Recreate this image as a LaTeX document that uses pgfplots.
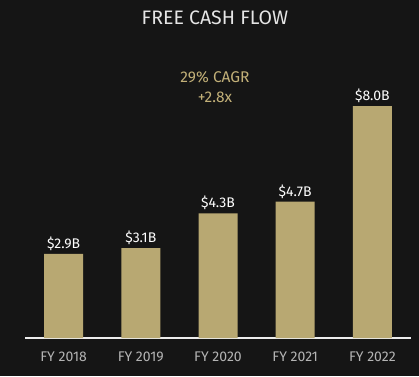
\documentclass[border=0pt]{standalone}
\usepackage{pgfplots}
\pgfplotsset{compat=1.18}
\usepackage{fontspec}
\setmainfont{Fira Sans}
\definecolor{bg}{HTML}{151515}
\definecolor{barc}{HTML}{B8A872}
\definecolor{gold}{HTML}{C2B078}
\definecolor{tickc}{HTML}{B4B4B4}
\begin{document}
\begin{tikzpicture}[x=1pt,y=1pt]
\fill[bg] (0,0) rectangle (419,376);
\useasboundingbox (0,0) rectangle (419,376);
\node[text=white!80!gray, font=\fontsize{19.5}{22}\selectfont] at (215,358) {FREE CASH FLOW};
\node[text=gold, font=\fontsize{15.5}{20}\selectfont, align=center] at (215,289) {29\% CAGR\\+2.8x};
\begin{axis}[
  at={(25pt,38pt)}, anchor=south west,
  scale only axis, width=386pt, height=261pt,
  xmin=-0.5, xmax=4.5, ymin=0, ymax=9,
  axis x line*=bottom, hide y axis,
  x axis line style={draw=white!85!gray, line width=1.2pt, -},
  xtick=data, xticklabels={FY 2018,FY 2019,FY 2020,FY 2021,FY 2022},
  xtick style={draw=none},
  xticklabel style={text=tickc, font=\fontsize{14}{16}\selectfont, yshift=-6pt},
  ybar, bar width=39pt,
  nodes near coords, point meta=explicit symbolic,
  every node near coord/.append style={text=white, font=\fontsize{14}{16}\selectfont},
]
\addplot[fill=barc, draw=none] coordinates {
  (0,2.9) [\$2.9B]
  (1,3.1) [\$3.1B]
  (2,4.3) [\$4.3B]
  (3,4.7) [\$4.7B]
  (4,8.0) [\$8.0B]
};
\end{axis}
\end{tikzpicture}
\end{document}
